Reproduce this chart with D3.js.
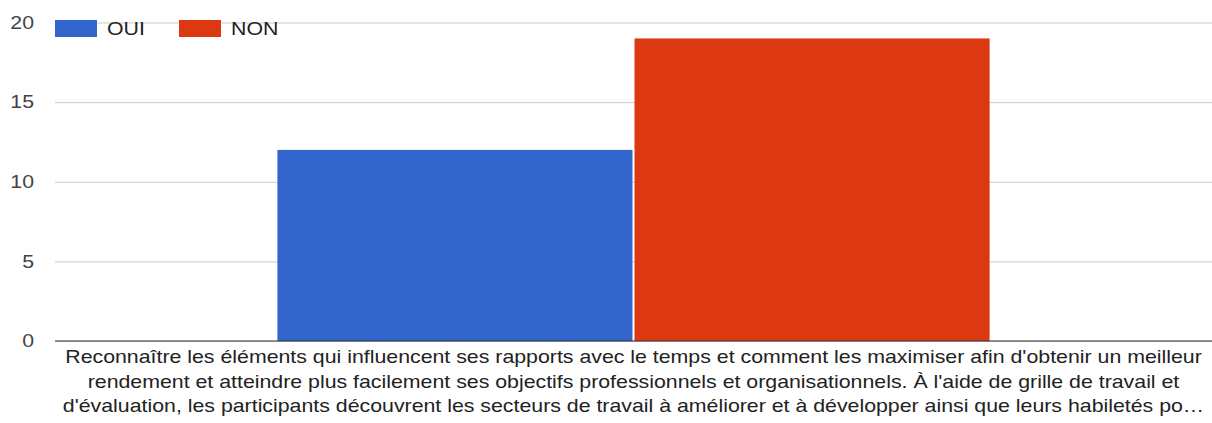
<!DOCTYPE html>
<html>
<head>
<meta charset="utf-8">
<script src="https://cdn.jsdelivr.net/npm/d3@7"></script>
<style>
  html, body { margin: 0; padding: 0; background: #fff; }
  svg text { font-family: "Liberation Sans", Arial, sans-serif; }
</style>
</head>
<body>
<div id="chart"></div>
<script>
/**
 * MACROS
 */
const WIDTH = 1212;
const HEIGHT = 423;
const MARGIN = { top: 22.5, right: 0, bottom: 82, left: 55 };
const FONT_SIZE = 18;
const STRETCH = 1.185; // the screenshot text is wider than tall, stretch glyphs horizontally

/**
 * Data
 */
const CATEGORIES = ["Reconnaître les éléments"];
const CATEGORY_LINES = [
    "Reconnaître les éléments qui influencent ses rapports avec le temps et comment les maximiser afin d'obtenir un meilleur",
    "rendement et atteindre plus facilement ses objectifs professionnels et organisationnels. À l'aide de grille de travail et",
    "d'évaluation, les participants découvrent les secteurs de travail à améliorer et à développer ainsi que leurs habiletés po…"
];
const SERIES = ["OUI", "NON"];
const VALUES = [12, 19];
const Y_TICKS = [0, 5, 10, 15, 20];
const COLORS = ["#3366cc", "#dc3912"];

/**
 * Build the chart
 */
function drawChart(){

    let svg = d3.select("#chart")
        .append("svg")
        .attr("width", WIDTH)
        .attr("height", HEIGHT);

    let x0 = d3.scaleBand()
        .domain(CATEGORIES)
        .range([MARGIN.left, WIDTH - MARGIN.right])
        .paddingInner(0)
        .paddingOuter(0.31);

    let x1 = d3.scaleBand()
        .domain(SERIES)
        .range([0, x0.bandwidth()]);

    let y = d3.scaleLinear()
        .domain([0, d3.max(Y_TICKS)])
        .range([HEIGHT - MARGIN.bottom, MARGIN.top]);

    let color = d3.scaleOrdinal().domain(SERIES).range(COLORS);

    // gridlines + tick labels
    let yAxis = d3.axisLeft(y)
        .tickValues(Y_TICKS)
        .tickSize(-(WIDTH - MARGIN.left - MARGIN.right))
        .tickPadding(21);

    let gy = svg.append("g")
        .attr("transform", "translate(" + MARGIN.left + ",0)")
        .call(yAxis);
    gy.select(".domain").remove();
    gy.selectAll(".tick line")
        .attr("stroke", "#cccccc")
        .attr("stroke-width", 1);
    gy.selectAll(".tick text")
        .attr("x", -21 / STRETCH)
        .attr("transform", "scale(" + STRETCH + ",1)")
        .attr("fill", "#444")
        .style("font-size", FONT_SIZE + "px");

    // bars
    let group = svg.append("g")
        .selectAll("g")
        .data(CATEGORIES)
        .join("g")
        .attr("transform", d => "translate(" + x0(d) + ",0)");

    group.selectAll("rect")
        .data(SERIES.map((s, i) => ({ serie: s, value: VALUES[i] })))
        .join("rect")
        .attr("x", d => x1(d.serie) + 1)
        .attr("y", d => y(d.value))
        .attr("width", x1.bandwidth() - 2)
        .attr("height", d => y(0) - y(d.value))
        .attr("fill", d => color(d.serie));

    // baseline
    svg.append("line")
        .attr("x1", MARGIN.left)
        .attr("x2", WIDTH - MARGIN.right)
        .attr("y1", y(0))
        .attr("y2", y(0))
        .attr("stroke", "#333")
        .attr("stroke-width", 1.2);

    // category label (wrapped)
    let cx = x0(CATEGORIES[0]) + x0.bandwidth() / 2;
    svg.append("g")
        .selectAll("text")
        .data(CATEGORY_LINES)
        .join("text")
        .attr("transform", (d, i) => "translate(" + cx + "," + (y(0) + 22 + i * 24.5) + ") scale(" + STRETCH + ",1)")
        .attr("text-anchor", "middle")
        .attr("fill", "#222")
        .style("font-size", FONT_SIZE + "px")
        .text(d => d);

    // legend
    let legend = svg.append("g")
        .selectAll("g")
        .data(SERIES)
        .join("g")
        .attr("transform", (d, i) => "translate(" + (MARGIN.left + i * 124) + ",20)");

    legend.append("rect")
        .attr("width", 42)
        .attr("height", 17)
        .attr("fill", d => color(d));

    legend.append("text")
        .attr("transform", "translate(52,9) scale(" + STRETCH + ",1)")
        .attr("dy", "0.35em")
        .attr("fill", "#222")
        .style("font-size", FONT_SIZE + "px")
        .text(d => d);
}

window.onload = drawChart;
</script>
</body>
</html>
